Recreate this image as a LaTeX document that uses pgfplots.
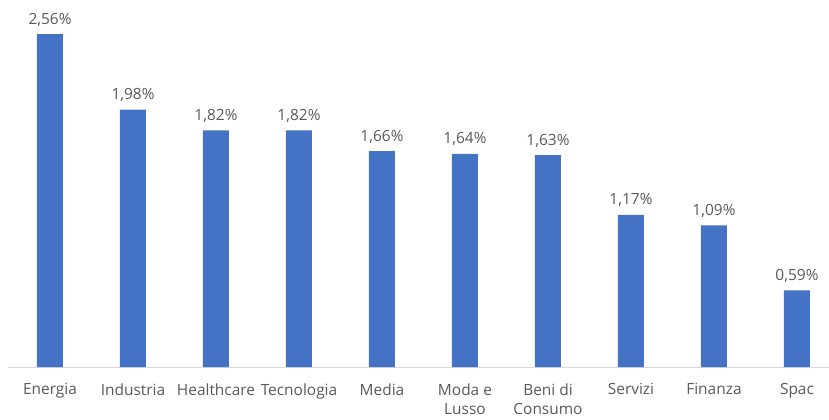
\documentclass[border=0pt]{standalone}
\usepackage{fontspec}
\setmainfont{Open Sans}
\usepackage{pgfplots}
\pgfplotsset{compat=1.18}
\definecolor{barblue}{HTML}{4472C4}
\definecolor{txtgray}{HTML}{595959}
\definecolor{axgray}{HTML}{D9D9D9}

\begin{document}
\begin{tikzpicture}
\begin{axis}[
  scale only axis,
  width=821bp, height=367bp,
  xmin=-0.506, xmax=9.386,
  ymin=0, ymax=2.823,
  ybar, bar width=26bp,
  axis y line=none,
  axis x line*=bottom,
  x axis line style={draw=axgray, line width=1bp},
  xtick={0,...,9},
  xticklabels={Energia, Industria, Healthcare, Tecnologia, Media, Moda e\\Lusso, Beni di\\Consumo, Servizi, Finanza, Spac},
  major tick length=0pt,
  xticklabel style={align=center, font=\fontsize{15.5}{19}\selectfont, text=txtgray, yshift=-13bp},
  /pgf/number format/assume math mode=true,
  nodes near coords={\pgfmathprintnumber[fixed,fixed zerofill,precision=2,use comma,assume math mode=true]{\pgfplotspointmeta}\%},
  nodes near coords style={font=\fontsize{15.5}{20}\selectfont, text=txtgray, anchor=base, yshift=10bp},
  clip=false,
]
\addplot[fill=barblue, draw=none] coordinates {
  (0,2.56) (1,1.98) (2,1.82) (3,1.82) (4,1.66)
  (5,1.64) (6,1.63) (7,1.17) (8,1.09) (9,0.59)};
\end{axis}
\pgfresetboundingbox
\path[use as bounding box] ([xshift=-8bp,yshift=-52bp]current axis.south west) rectangle (current axis.north east);
\end{tikzpicture}
\end{document}
